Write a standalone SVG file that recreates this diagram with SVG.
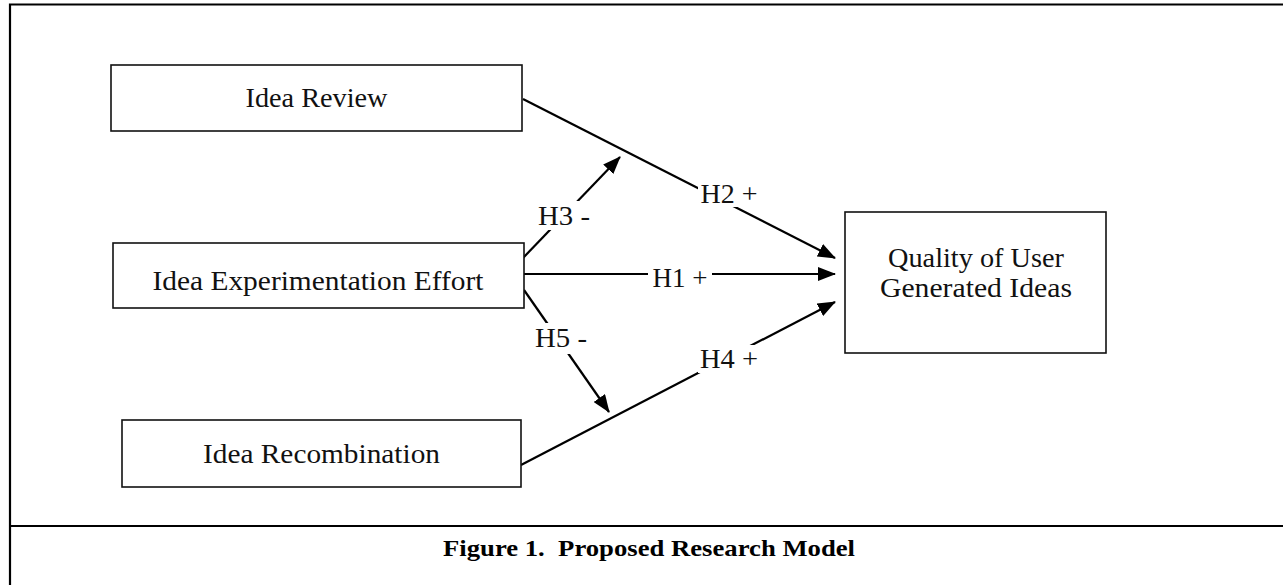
<svg xmlns="http://www.w3.org/2000/svg" width="1283" height="585" viewBox="0 0 1283 585">
<style>
.frame{fill:none;stroke:#000;stroke-width:2.2}
.box{fill:#fff;stroke:#111;stroke-width:1.6}
.lbl{font-family:"Liberation Serif","Times New Roman",serif;font-size:27px;fill:#111;text-anchor:middle}
.bg{fill:#fff;stroke:none}
.cap{font-family:"Liberation Serif","Times New Roman",serif;font-size:23px;font-weight:bold;fill:#000;text-anchor:middle}
.edge{stroke:#000;stroke-width:2.2;fill:none;marker-end:url(#arr)}
</style>
<defs>
<marker id="arr" markerWidth="18" markerHeight="14" refX="17" refY="7" orient="auto" markerUnits="userSpaceOnUse">
<path d="M0,0 L18,7 L0,14 z" fill="#000"/>
</marker>
</defs>
<rect width="1283" height="585" fill="#fff"/>
<g id="frame">
<path class="frame" d="M1290,4.5 H10 V590"/>
<path class="frame" d="M10,526 H1290"/>
</g>
<g id="connectors">
<line class="edge" x1="523" y1="99" x2="835" y2="258"/>
<line class="edge" x1="524" y1="274" x2="835" y2="274"/>
<line class="edge" x1="523" y1="258" x2="620" y2="157"/>
<line class="edge" x1="524" y1="290" x2="609" y2="412"/>
<line class="edge" x1="521" y1="465" x2="835" y2="302"/>
<rect class="bg" x="698" y="182" width="62" height="25"/>
<rect class="bg" x="648" y="266" width="64" height="24"/>
<rect class="bg" x="535" y="201" width="57" height="29"/>
<rect class="bg" x="532" y="323" width="58" height="31"/>
<rect class="bg" x="698" y="345" width="62" height="28"/>
<text class="lbl" x="729" y="203" textLength="57" lengthAdjust="spacingAndGlyphs">H2 +</text>
<text class="lbl" x="680" y="287" textLength="55" lengthAdjust="spacingAndGlyphs">H1 +</text>
<text class="lbl" x="564" y="225" textLength="52" lengthAdjust="spacingAndGlyphs">H3 -</text>
<text class="lbl" x="561" y="347" textLength="52" lengthAdjust="spacingAndGlyphs">H5 -</text>
<text class="lbl" x="729" y="368" textLength="58" lengthAdjust="spacingAndGlyphs">H4 +</text>
</g>
<g id="idea-review">
<rect class="box" x="111" y="65" width="411" height="66"/>
<text class="lbl" x="316.5" y="107" textLength="142" lengthAdjust="spacingAndGlyphs">Idea Review</text>
</g>
<g id="idea-experimentation-effort">
<rect class="box" x="113" y="243" width="411" height="65"/>
<text class="lbl" x="318" y="290" textLength="331" lengthAdjust="spacingAndGlyphs">Idea Experimentation Effort</text>
</g>
<g id="idea-recombination">
<rect class="box" x="122" y="420" width="399" height="67"/>
<text class="lbl" x="321.5" y="463" textLength="237" lengthAdjust="spacingAndGlyphs">Idea Recombination</text>
</g>
<g id="quality">
<rect class="box" x="845" y="212" width="261" height="141"/>
<text class="lbl" x="976" y="267" textLength="176" lengthAdjust="spacingAndGlyphs">Quality of User</text>
<text class="lbl" x="976" y="297" textLength="192" lengthAdjust="spacingAndGlyphs">Generated Ideas</text>
</g>
<g id="caption">
<text class="cap" x="649" y="556" textLength="412" lengthAdjust="spacingAndGlyphs">Figure 1.&#160; Proposed Research Model</text>
</g>
</svg>
